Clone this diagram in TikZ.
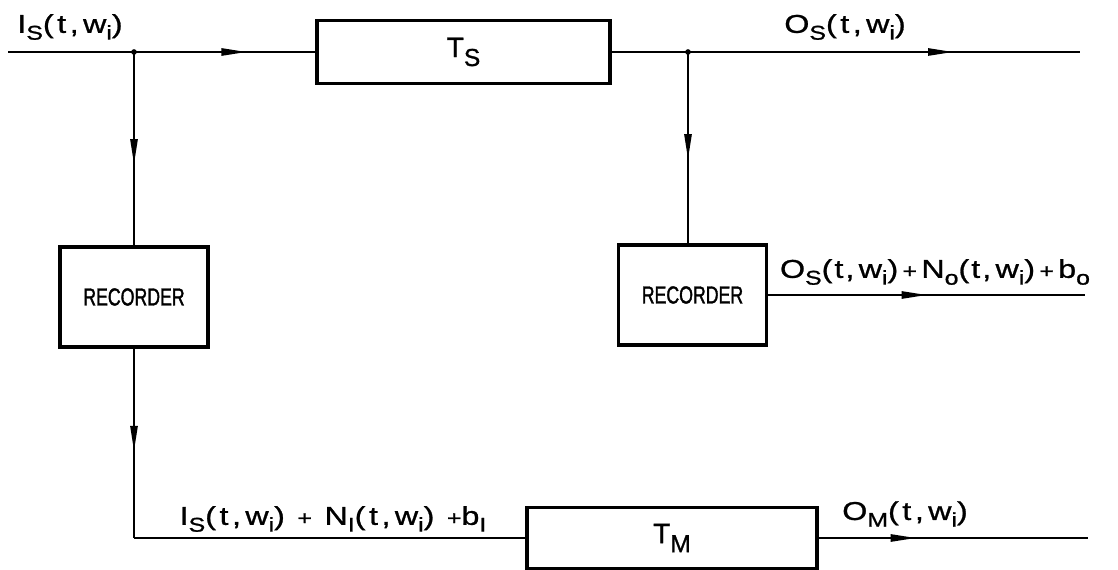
\documentclass[tikz,border=0pt]{standalone}
\usepackage{fontspec}
\setmainfont{Liberation Sans}
\newfontfamily\labfont[FakeStretch=1.25,LetterSpace=8,FakeBold=1]{Liberation Sans}
\newfontfamily\labwfont[FakeStretch=1.25,LetterSpace=14,FakeBold=1]{Liberation Sans}
\newfontfamily\recfont[FakeStretch=0.72,FakeBold=1.4]{Liberation Sans}
\newfontfamily\tfont[FakeBold=1]{Liberation Sans}
\usetikzlibrary{arrows.meta,decorations.markings}
\newcommand{\sbx}[1]{\raisebox{-0.5ex}{\fontsize{17}{17}\selectfont #1}}
\newcommand{\tsb}[1]{\raisebox{-0.6ex}{\fontsize{21}{21}\selectfont #1}}
\newcommand{\pl}{{\fontsize{17}{17}\selectfont +}}
\begin{document}
\begin{tikzpicture}[x=0.03cm,y=-0.03cm,
  box/.style={draw,line width=2.8pt,inner sep=0pt},
  conn/.style={line width=1.4pt},
  midarrow/.style={postaction={decorate},decoration={markings,mark=at position #1 with {\arrow{Triangle[length=0.75cm,width=0.22cm]}}}},
  lbl/.style={font=\labfont\fontsize{22}{24}\selectfont,inner sep=0pt},
  lblw/.style={font=\labwfont\fontsize{22}{24}\selectfont,inner sep=0pt},
  rec/.style={box,minimum width=4.44cm,minimum height=3.0cm,font=\recfont\fontsize{21}{21}\selectfont}
]
\useasboundingbox (0,0) rectangle (1118,570);
% blocks
\node[box,minimum width=8.79cm,minimum height=1.89cm,font=\tfont] (TS) at (463.5,52) {\fontsize{24}{24}\selectfont T\tsb{S}};
\node[rec] (recL) at (134,297) {RECORDER};
\node[rec] (recR) at (692.5,295) {RECORDER};
\node[box,minimum width=8.7cm,minimum height=1.83cm,font=\tfont] (TM) at (672,538) {\fontsize{24}{24}\selectfont T\tsb{M}};
% points
\coordinate (in) at (8,52);
\coordinate (j1) at (134,52);
\coordinate (j2) at (688,52);
\coordinate (out1) at (1080,52);
\coordinate (out2) at (1085,295);
\coordinate (c1) at (134,538);
\coordinate (out3) at (1088,538);
% connectors
\draw[conn] (in) -- (j1);
\draw[conn,midarrow=0.62] (j1) -- (TS.west);
\draw[conn] (TS.east) -- (j2);
\draw[conn,midarrow=0.676] (j2) -- (out1);
\draw[conn,midarrow=0.58] (j1) -- (recL.north);
\draw[conn,midarrow=0.56] (j2) -- (j2 |- recR.north);
\draw[conn,midarrow=0.5] (recR.east) -- (out2);
\draw[conn,midarrow=0.54] (recL.south) -- (c1);
\draw[conn] (c1) -- (TM.west);
\draw[conn,midarrow=0.36] (TM.east) -- (out3);
\fill (j1) circle (2.4pt);
\fill (j2) circle (2.4pt);
% labels
\node[lblw] (lIS) at (70,27) {I\sbx{S}(t,\,w\sbx{i})};
\node[lblw] (lOS) at (845,27) {O\sbx{S}(t,\,w\sbx{i})};
\node[lbl] (lOSN) at (935,272) {O\sbx{S}(t,\,w\sbx{i})\,\pl\,N\sbx{o}(t,\,w\sbx{i})\,\pl\,b\sbx{o}};
\node[lblw] (lISN) at (333,519) {I\sbx{S}(t,\,w\sbx{i}) \pl{} N\sbx{I}(t,\,w\sbx{i}) \pl{}b\sbx{I}};
\node[lblw] (lOM) at (905,514) {O\sbx{M}(t,\,w\sbx{i})};
\end{tikzpicture}
\end{document}
